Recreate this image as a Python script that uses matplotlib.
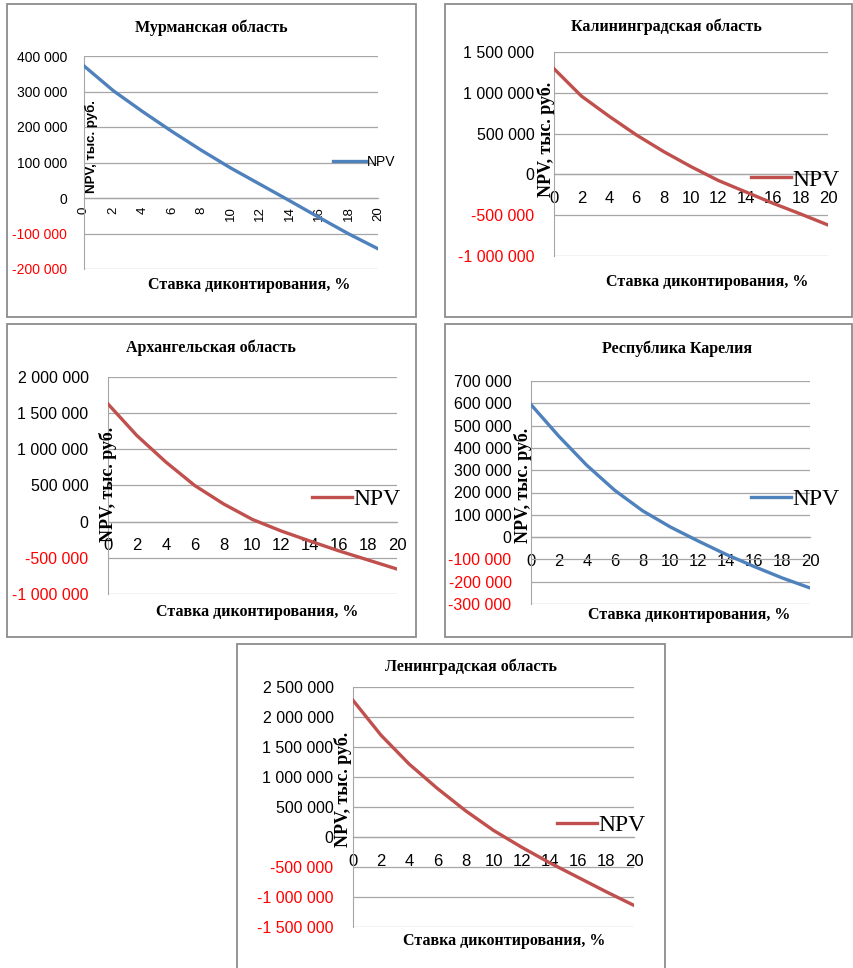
# NPV vs discount rate for five regions

import matplotlib
matplotlib.use("Agg")
import matplotlib.pyplot as plt
from matplotlib.patches import Rectangle

# Data (thousand rubles)
rates = [0, 2, 4, 6, 8, 10, 12, 14, 16, 18, 20]

npv_murmansk = [372000, 302000, 243000, 187000, 134000, 84000, 38000, -8000, -55000, -101000, -143000]
npv_kaliningrad = [1295000, 960000, 715000, 485000, 280000, 95000, -75000, -215000, -355000, -485000, -620000]
npv_arkhangelsk = [1627000, 1190000, 825000, 500000, 245000, 30000, -130000, -270000, -405000, -530000, -655000]
npv_karelia = [594000, 452000, 322000, 210000, 118000, 45000, -18000, -78000, -132000, -183000, -228000]
npv_leningrad = [2278000, 1695000, 1215000, 810000, 440000, 110000, -170000, -430000, -670000, -910000, -1140000]

titles = ["Мурманская область", "Калининградская область", "Архангельская область",
          "Республика Карелия", "Ленинградская область"]
xlabel = "Ставка диконтирования, %"
ylabel = "NPV, тыс. руб."

BLUE = "#4F81BD"
RED = "#C0504D"
W, H = 854, 968

def fx(px):
    return px / W

def fy(py):
    return 1 - py / H

fig = plt.figure(figsize=(W / 100, H / 100), dpi=100, facecolor="white")

# one dict per panel: plot area in pixels, limits, placement of texts
panels = [
    dict(y=npv_murmansk, color=BLUE, box=(84, 56, 378, 269), lim=(-200000, 400000), step=100000,
         frame=(7, 4, 416, 317), title=(211, 28), xl=(249, 285), yl=(91, 193), ylsans=True,
         leg=(333, 162), legsans=True, rot=True),
    dict(y=npv_kaliningrad, color=RED, box=(554, 52, 828, 256), lim=(-1000000, 1500000), step=500000,
         frame=(445, 4, 852, 317), title=(666, 27), xl=(707, 282), yl=(546, 197), ylsans=False,
         leg=(751, 180), legsans=False, rot=False),
    dict(y=npv_arkhangelsk, color=RED, box=(108, 377, 397, 594), lim=(-1000000, 2000000), step=500000,
         frame=(7, 324, 416, 637), title=(211, 348), xl=(257, 612), yl=(108, 542), ylsans=False,
         leg=(312, 499), legsans=False, rot=False),
    dict(y=npv_karelia, color=BLUE, box=(531, 381, 810, 604), lim=(-300000, 700000), step=100000,
         frame=(445, 324, 852, 637), title=(677, 349), xl=(689, 615), yl=(523, 543), ylsans=False,
         leg=(751, 499), legsans=False, rot=False),
    dict(y=npv_leningrad, color=RED, box=(353, 687, 634, 927), lim=(-1500000, 2500000), step=500000,
         frame=(237, 644, 665, 975), title=(471, 667), xl=(504, 941), yl=(343, 847), ylsans=False,
         leg=(557, 825), legsans=False, rot=False),
]

for p, title in zip(panels, titles):
    l, t, r, b = p["frame"]
    fig.patches.append(Rectangle((fx(l), fy(b)), fx(r) - fx(l), fy(t) - fy(b), transform=fig.transFigure,
                                 fill=False, edgecolor="#8C8C8C", linewidth=1.3))

    l, t, r, b = p["box"]
    ax = fig.add_axes([fx(l), fy(b), fx(r) - fx(l), fy(t) - fy(b)])
    line, = ax.plot(rates, p["y"], color=p["color"], linewidth=2.4, label="NPV", zorder=3)

    lo, hi = p["lim"]
    ax.set_xlim(0, 20)
    ax.set_ylim(lo, hi)
    ax.set_xticks(rates)
    ax.set_yticks(range(lo, hi + 1, p["step"]))
    ax.set_yticklabels([f"{v:,}".replace(",", " ") for v in range(lo, hi + 1, p["step"])])
    for lab, v in zip(ax.get_yticklabels(), range(lo, hi + 1, p["step"])):
        lab.set_color("red" if v < 0 else "black")

    ax.yaxis.grid(True, color="#A6A6A6", linewidth=0.9)
    ax.set_axisbelow(True)
    for s in ["top", "right"]:
        ax.spines[s].set_visible(False)
    ax.spines["left"].set_color("#A6A6A6")
    ax.spines["bottom"].set_position(("data", 0))
    ax.spines["bottom"].set_color("#A6A6A6")
    ax.spines["bottom"].set_linewidth(0.9)

    if p["rot"]:
        ax.tick_params(axis="x", length=0, pad=6, labelsize=9.5, labelrotation=90)
        ax.tick_params(axis="y", length=0, pad=12, labelsize=10)
    else:
        ax.tick_params(axis="x", length=0, pad=12, labelsize=12)
        ax.tick_params(axis="y", length=0, pad=14, labelsize=11.5)
    for lab in ax.get_xticklabels() + ax.get_yticklabels():
        lab.set_family("Liberation Sans")

    fig.text(fx(p["title"][0]), fy(p["title"][1]), title, ha="center", va="center",
             family="Liberation Serif", weight="bold", fontsize=11.5)
    fig.text(fx(p["xl"][0]), fy(p["xl"][1]), xlabel, ha="center", va="center",
             family="Liberation Serif", weight="bold", fontsize=11.5)
    if p["ylsans"]:
        fig.text(fx(p["yl"][0]), fy(p["yl"][1]), ylabel, ha="center", va="bottom", rotation=90,
                 family="Liberation Sans", weight="bold", fontsize=9.5)
        legprop = dict(family="Liberation Sans", size=10)
    else:
        fig.text(fx(p["yl"][0]), fy(p["yl"][1]), ylabel, ha="center", va="bottom", rotation=90,
                 family="Liberation Serif", weight="bold", fontsize=13)
        legprop = dict(family="Liberation Serif", size=17)
    ax.legend(loc="center left", bbox_to_anchor=(fx(p["leg"][0]), fy(p["leg"][1])),
              bbox_transform=fig.transFigure, frameon=False, prop=legprop,
              handlelength=2.4 if p["legsans"] else 1.7, handletextpad=0.05, borderpad=0, borderaxespad=0)

fig.savefig("out.png", dpi=100, facecolor="white")
